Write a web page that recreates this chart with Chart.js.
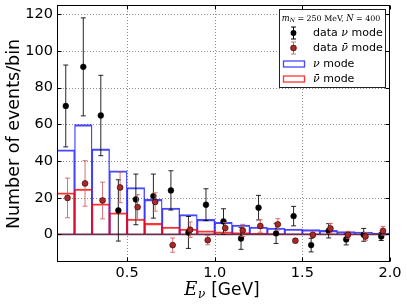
<!DOCTYPE html>
<html><head><meta charset="utf-8">
<script src="https://cdn.jsdelivr.net/npm/chart.js@4"></script>
<style>html,body{margin:0;padding:0;background:#fff}</style>
</head><body>
<canvas id="c" width="407" height="307" style="display:block;width:407px;height:307px"></canvas>
<script>
const binCenters = [0.15,0.25,0.35,0.45,0.55,0.65,0.75,0.85,0.95,1.05,1.15,1.25,1.35,1.45,1.55,1.65,1.75,1.85,1.95];
const nubarX = [0.16,0.26,0.36,0.46,0.56,0.66,0.76,0.86,0.96,1.06,1.16,1.26,1.36,1.46,1.56,1.66,1.76,1.86,1.96];
const nuHist = [46.1,59.8,46.6,34.7,25.6,19.1,14.4,10.9,8.2,6.6,5.1,4.0,3.5,2.9,2.6,2.2,1.6,1.3,0.8];
const nubarHist = [22.7,24.7,16.7,11.8,8.4,6.0,4.0,2.9,2.0,1.4,1.0,0.7,0.5,0.4,0.3,0.2,0.2,0.1,0.1];
const nuData = [70.0,91.3,64.8,13.1,19.1,20.9,24.0,1.1,16.2,7.1,-2.2,14.6,0.6,10.0,-5.8,2.0,-2.7,-0.2,-1.1];
const nuErr = [22.3,26.7,21.9,16.7,13.8,12.0,10.7,8.7,8.7,6.9,5.9,6.7,5.5,5.3,3.7,3.9,3.0,3.5,2.2];
const nubarData = [19.9,27.8,18.5,25.6,14.9,17.7,-5.8,2.6,-3.1,3.5,2.2,4.6,5.5,-3.4,-0.2,3.3,-0.2,-1.1,2.0];
const nubarErr = [10.8,12.4,10.0,8.3,6.8,5.0,3.9,4.2,2.5,3.0,3.3,3.4,3.1,1.0,1.5,2.7,1.9,2.1,2.4];
const xTicks = [0.5,1.0,1.5,2.0];
const yTicks = [0,20,40,60,80,100,120];
const legendTitle = ["m","N"," = 250 MeV, ","N"," = 400"];

const BLUE = 'rgba(0,0,255,0.72)';
const RED = 'rgba(255,0,0,0.8)';
const ERR_RED = 'rgba(205,92,92,0.85)';
const PT_RED = '#a52a2a';

function drawErr(chart, xs, ys, es, color){
  const ctx = chart.ctx, sx = chart.scales.x, sy = chart.scales.y;
  ctx.save(); ctx.strokeStyle = color; ctx.lineWidth = 1;
  for (let i = 0; i < xs.length; i++) {
    const px = sx.getPixelForValue(xs[i]);
    const t = sy.getPixelForValue(ys[i] + es[i]);
    const b = sy.getPixelForValue(ys[i] - es[i]);
    ctx.beginPath();
    ctx.moveTo(px, t); ctx.lineTo(px, b);
    ctx.moveTo(px - 2.5, t); ctx.lineTo(px + 2.5, t);
    ctx.moveTo(px - 2.5, b); ctx.lineTo(px + 2.5, b);
    ctx.stroke();
  }
  ctx.restore();
}

const deco = {
  id: 'deco',
  beforeDatasetsDraw(chart) {
    const ctx = chart.ctx, a = chart.chartArea, sx = chart.scales.x, sy = chart.scales.y;
    ctx.save();
    ctx.strokeStyle = '#8c8c8c'; ctx.lineWidth = 1; ctx.setLineDash([1, 2]);
    xTicks.forEach(v => { if (v >= 2.0) return; const p = Math.round(sx.getPixelForValue(v)) + 0.5;
      ctx.beginPath(); ctx.moveTo(p, a.top); ctx.lineTo(p, a.bottom); ctx.stroke(); });
    yTicks.forEach(v => { const p = Math.round(sy.getPixelForValue(v)) + 0.5;
      ctx.beginPath(); ctx.moveTo(a.left, p); ctx.lineTo(a.right, p); ctx.stroke(); });
    ctx.restore();
  },
  beforeDatasetDraw(chart, args) {
    const ctx = chart.ctx, a = chart.chartArea, sy = chart.scales.y;
    if (args.index === 2) {
      const p = sy.getPixelForValue(0);
      ctx.save(); ctx.strokeStyle = '#6a2f4f'; ctx.lineWidth = 1.8;
      ctx.beginPath(); ctx.moveTo(a.left, p); ctx.lineTo(a.right, p); ctx.stroke(); ctx.restore();
      drawErr(chart, binCenters, nuData, nuErr, 'rgba(0,0,0,0.85)');
    }
    if (args.index === 3) drawErr(chart, nubarX, nubarData, nubarErr, ERR_RED);
  },
  afterDatasetsDraw(chart) {
    const ctx = chart.ctx, a = chart.chartArea, sx = chart.scales.x, sy = chart.scales.y;
    ctx.save();
    ctx.strokeStyle = '#000'; ctx.lineWidth = 1;
    const L = Math.round(a.left) + 0.5, R = Math.round(a.right) - 0.5, T = Math.round(a.top) + 0.5, B = Math.round(a.bottom) - 0.5;
    ctx.strokeRect(L, T, R - L, B - T);
    ctx.beginPath();
    xTicks.forEach(v => { const p = Math.round(sx.getPixelForValue(v)) + 0.5;
      ctx.moveTo(p, B); ctx.lineTo(p, B - 4); ctx.moveTo(p, T); ctx.lineTo(p, T + 4); });
    yTicks.forEach(v => { const p = Math.round(sy.getPixelForValue(v)) + 0.5;
      ctx.moveTo(L, p); ctx.lineTo(L + 4, p); ctx.moveTo(R, p); ctx.lineTo(R - 4, p); });
    ctx.stroke();
    ctx.restore();
  },
  afterDraw(chart) {
    const ctx = chart.ctx;
    ctx.save();
    ctx.fillStyle = '#000';
    ctx.textBaseline = 'alphabetic';
    ctx.font = 'italic 18px "DejaVu Serif"';
    const e = 'E', wE = ctx.measureText(e).width;
    ctx.font = 'italic 12px "DejaVu Serif"';
    const wNu = ctx.measureText('ν').width;
    ctx.font = '17px "DejaVu Sans"';
    const rest = ' [GeV]', wR = ctx.measureText(rest).width;
    let x0 = 222 - (wE + wNu + 1 + wR) / 2;
    ctx.font = 'italic 18px "DejaVu Serif"'; ctx.fillText(e, x0, 295);
    ctx.font = 'italic 12px "DejaVu Serif"'; ctx.fillText('ν', x0 + wE + 0.5, 298);
    ctx.font = '17px "DejaVu Sans"'; ctx.fillText(rest, x0 + wE + wNu + 1, 295);
    ctx.save();
    ctx.translate(19, 134); ctx.rotate(-Math.PI / 2);
    ctx.textAlign = 'center'; ctx.font = '17.5px "DejaVu Sans"';
    ctx.fillText('Number of events/bin', 0, 0);
    ctx.restore();

    // legend
    const bx = 279.5, by = 9.5, bw = 106, bh = 78;
    ctx.fillStyle = '#fff'; ctx.fillRect(bx, by, bw, bh);
    ctx.strokeStyle = '#222'; ctx.lineWidth = 1; ctx.strokeRect(bx, by, bw, bh);
    ctx.fillStyle = '#000';
    const fonts = ['italic 8.4px "DejaVu Serif"', 'italic 6px "DejaVu Serif"', '7.9px "DejaVu Serif"', 'italic 8.4px "DejaVu Serif"', '7.9px "DejaVu Serif"'];
    const dy = [0, 1.8, 0, 0, 0];
    let tw = 0;
    legendTitle.forEach((s, i) => { ctx.font = fonts[i]; tw += ctx.measureText(s).width; });
    let tx = 331 - tw / 2;
    legendTitle.forEach((s, i) => { ctx.font = fonts[i]; ctx.fillText(s, tx, 20.5 + dy[i]); tx += ctx.measureText(s).width; });
    const mx = 293.5;
    const rows = [33, 48, 64, 79];
    ctx.lineWidth = 1;
    ctx.strokeStyle = '#000';
    ctx.beginPath(); ctx.moveTo(mx, rows[0] - 6); ctx.lineTo(mx, rows[0] + 6);
    ctx.moveTo(mx - 2.5, rows[0] - 6); ctx.lineTo(mx + 2.5, rows[0] - 6);
    ctx.moveTo(mx - 2.5, rows[0] + 6); ctx.lineTo(mx + 2.5, rows[0] + 6); ctx.stroke();
    ctx.beginPath(); ctx.arc(mx, rows[0], 2.9, 0, Math.PI * 2); ctx.fillStyle = '#000'; ctx.fill();
    ctx.strokeStyle = ERR_RED;
    ctx.beginPath(); ctx.moveTo(mx, rows[1] - 6); ctx.lineTo(mx, rows[1] + 6);
    ctx.moveTo(mx - 2.5, rows[1] - 6); ctx.lineTo(mx + 2.5, rows[1] - 6);
    ctx.moveTo(mx - 2.5, rows[1] + 6); ctx.lineTo(mx + 2.5, rows[1] + 6); ctx.stroke();
    ctx.beginPath(); ctx.arc(mx, rows[1], 2.9, 0, Math.PI * 2); ctx.fillStyle = PT_RED; ctx.fill();
    ctx.strokeStyle = '#4a0000'; ctx.lineWidth = 0.7; ctx.stroke();
    ctx.lineWidth = 1.3;
    ctx.strokeStyle = BLUE; ctx.strokeRect(283.5, rows[2] - 3, 21, 6);
    ctx.strokeStyle = RED; ctx.strokeRect(283.5, rows[3] - 3, 21, 6);
    ctx.fillStyle = '#000'; ctx.textBaseline = 'middle';
    const lab = [['data ', 'ν', ' mode'], ['data ', 'ν̄', ' mode'], ['', 'ν', ' mode'], ['', 'ν̄', ' mode']];
    lab.forEach((parts, r) => {
      let lx = 313;
      parts.forEach((s, k) => {
        ctx.font = k === 1 ? 'italic 11px "DejaVu Serif"' : '11px "DejaVu Sans"';
        ctx.fillText(s, lx, rows[r] + 0.5); lx += ctx.measureText(s).width;
      });
    });
    ctx.restore();
  }
};

Chart.defaults.font.family = '"DejaVu Sans"';
Chart.defaults.color = '#000';

new Chart(document.getElementById('c'), {
  type: 'bar',
  data: {
    datasets: [
      { type: 'bar', label: 'ν mode', data: binCenters.map((x, i) => ({ x, y: nuHist[i] })),
        borderColor: BLUE, backgroundColor: 'rgba(0,0,0,0)',
        borderWidth: { top: 1.4, left: 0.7, right: 0.7, bottom: 0 }, borderSkipped: false,
        grouped: false, barPercentage: 1, categoryPercentage: 1, order: 3 },
      { type: 'bar', label: 'ν̄ mode', data: binCenters.map((x, i) => ({ x, y: nubarHist[i] })),
        borderColor: RED, backgroundColor: 'rgba(0,0,0,0)',
        borderWidth: { top: 1.4, left: 0.7, right: 0.7, bottom: 0 }, borderSkipped: false,
        grouped: false, barPercentage: 1, categoryPercentage: 1, order: 2 },
      { type: 'scatter', label: 'data ν mode', data: binCenters.map((x, i) => ({ x, y: nuData[i] })),
        pointRadius: 2.9, pointBackgroundColor: '#000', pointBorderColor: '#000', pointBorderWidth: 0.5, order: 1 },
      { type: 'scatter', label: 'data ν̄ mode', data: nubarX.map((x, i) => ({ x, y: nubarData[i] })),
        pointRadius: 2.9, pointBackgroundColor: PT_RED, pointBorderColor: '#4a0000', pointBorderWidth: 0.7, order: 0 }
    ]
  },
  options: {
    responsive: false, animation: false,
    layout: { padding: { left: 0, right: 17, top: 5, bottom: 0 } },
    plugins: { legend: { display: false }, tooltip: { enabled: false } },
    scales: {
      x: { type: 'linear', min: 0.1, max: 2.0, offset: false,
        grid: { display: false, drawTicks: false, offset: false }, border: { display: false },
        afterBuildTicks: s => { s.ticks = xTicks.map(v => ({ value: v })); },
        afterFit: s => { s.height = 45; s.paddingLeft = 0; s.paddingRight = 0; },
        ticks: { font: { size: 14.5 }, padding: 3, maxRotation: 0, autoSkip: false,
          callback: v => v.toFixed(1) } },
      y: { type: 'linear', min: -15, max: 125,
        grid: { display: false, drawTicks: false }, border: { display: false },
        afterBuildTicks: s => { s.ticks = yTicks.map(v => ({ value: v })); },
        afterFit: s => { s.width = 57; s.paddingTop = 0; s.paddingBottom = 0; },
        ticks: { font: { size: 14.5 }, padding: 4, autoSkip: false, callback: v => String(v) } }
    }
  },
  plugins: [deco]
});
</script>
</body></html>
